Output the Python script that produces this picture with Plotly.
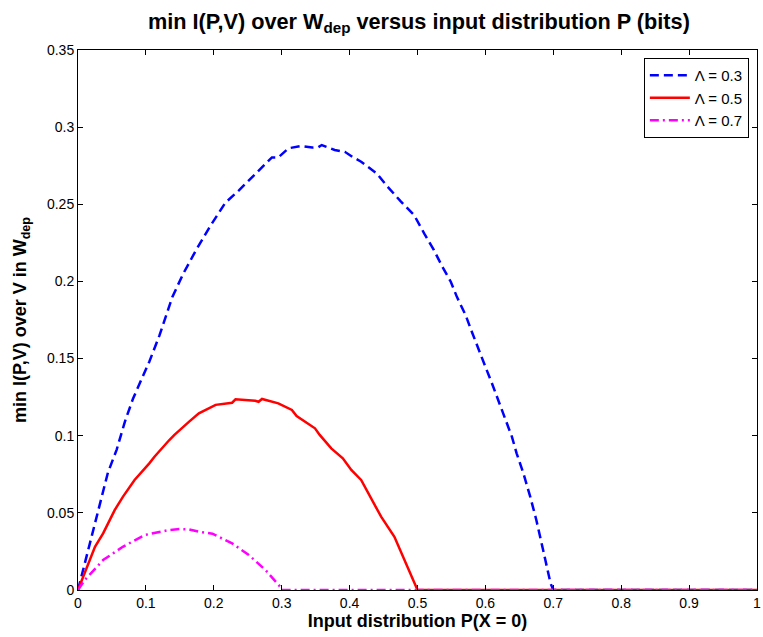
import plotly.graph_objects as go

# Lambda = 0.3
x_l03 = [0.0, 0.0175, 0.032, 0.044, 0.057, 0.069, 0.081, 0.093, 0.105, 0.12, 0.139, 0.155,
         0.1735, 0.195, 0.217, 0.237, 0.255, 0.271, 0.2856, 0.295, 0.31, 0.329, 0.345,
         0.354, 0.359, 0.378, 0.393, 0.405, 0.417, 0.44, 0.456, 0.475, 0.495, 0.51,
         0.524, 0.5365, 0.549, 0.558, 0.571, 0.58, 0.59, 0.6, 0.6096, 0.619, 0.629,
         0.639, 0.646, 0.656, 0.666, 0.675, 0.685, 0.696, 0.70, 1.0]
y_l03 = [0.0, 0.030, 0.056, 0.076, 0.091, 0.109, 0.124, 0.136, 0.148, 0.165, 0.190, 0.205,
         0.220, 0.236, 0.251, 0.259, 0.267, 0.274, 0.2804, 0.2804, 0.2863, 0.2878, 0.2868,
         0.287, 0.2884, 0.2852, 0.284, 0.2805, 0.2776, 0.270, 0.2614, 0.252, 0.243, 0.231,
         0.2204, 0.2096, 0.1998, 0.190, 0.178, 0.1674, 0.1556, 0.1447, 0.134, 0.1231, 0.1113,
         0.0994, 0.0886, 0.0756, 0.0605, 0.0454, 0.0259, 0.0043, 0.0, 0.0]

# Lambda = 0.5
x_l05 = [0.0, 0.025, 0.037, 0.054, 0.0663, 0.0833, 0.105, 0.1126, 0.1345, 0.142, 0.1637,
         0.178, 0.2027, 0.227, 0.232, 0.261, 0.266, 0.271, 0.295, 0.315, 0.322, 0.349,
         0.356, 0.373, 0.390, 0.4025, 0.417, 0.432, 0.4464, 0.466, 0.5, 1.0]
y_l05 = [0.0, 0.028, 0.0367, 0.0518, 0.0605, 0.0713, 0.0821, 0.0864, 0.0972, 0.1005, 0.1091,
         0.1145, 0.120, 0.1214, 0.1236, 0.1227, 0.122, 0.1238, 0.121, 0.1167, 0.1128, 0.1048,
         0.1005, 0.0918, 0.0854, 0.0778, 0.0713, 0.0594, 0.0475, 0.0345, 0.0, 0.0]

# Lambda = 0.7
x_l07 = [0.0, 0.01, 0.037, 0.0443, 0.066, 0.098, 0.1345, 0.15, 0.1637, 0.178, 0.198, 0.227,
         0.2515, 0.276, 0.298, 0.3, 1.0]
y_l07 = [0.0, 0.0065, 0.0194, 0.0216, 0.028, 0.0356, 0.0389, 0.0395, 0.0393, 0.0378, 0.0365,
         0.0302, 0.0227, 0.013, 0.002, 0.0, 0.0]

x_ticks = [0, 0.1, 0.2, 0.3, 0.4, 0.5, 0.6, 0.7, 0.8, 0.9, 1]
y_ticks = [0, 0.05, 0.1, 0.15, 0.2, 0.25, 0.3, 0.35]

FONT = "Liberation Sans, Arial, sans-serif"

fig = go.Figure()
fig.add_trace(go.Scatter(x=x_l03, y=y_l03, mode="lines", name="\u039b = 0.3",
                         line=dict(color="#0000ff", width=2.5, dash="9px,5px")))
fig.add_trace(go.Scatter(x=x_l05, y=y_l05, mode="lines", name="\u039b = 0.5",
                         line=dict(color="#ff0000", width=2.5)))
fig.add_trace(go.Scatter(x=x_l07, y=y_l07, mode="lines", name="\u039b = 0.7",
                         line=dict(color="#ff00ff", width=2.5, dash="9px,4px,2px,4px")))

axis_common = dict(showline=True, linecolor="black", linewidth=1, mirror="allticks",
                   ticks="inside", ticklen=5, tickcolor="black", showgrid=False,
                   zeroline=False, ticklabeloverflow="allow",
                   tickfont=dict(family=FONT, size=14, color="black"))

fig.update_layout(
    width=763, height=637,
    margin=dict(l=78, r=2, t=50, b=47),
    paper_bgcolor="white", plot_bgcolor="white",
    font=dict(family=FONT, color="black"),
    title=dict(text="<b>min I(P,V) over W<sub>dep</sub> versus input distribution P (bits)</b>",
               x=0.549, xanchor="center", y=1 - 21 / 637, yanchor="middle",
               font=dict(family=FONT, size=21.7, color="black")),
    xaxis=dict(range=[0, 1], tickvals=x_ticks,
               title=dict(text="<b>Input distribution P(X = 0)</b>", standoff=2,
                          font=dict(family=FONT, size=18, color="black")),
               **axis_common),
    yaxis=dict(range=[0, 0.35], tickvals=y_ticks,
               title=dict(text="<b>min I(P,V) over V in W<sub>dep</sub></b>", standoff=15,
                          font=dict(family=FONT, size=18, color="black")),
               **axis_common),
    legend=dict(x=0.988, xanchor="right", y=0.985, yanchor="top",
                bordercolor="black", borderwidth=1, bgcolor="white",
                font=dict(family=FONT, size=15, color="black"),
                tracegroupgap=0, itemwidth=40),
    showlegend=True,
)

fig.write_html("out.html", config={"displayModeBar": False},
               post_script="document.body.style.margin='0';document.body.style.overflow='hidden';")
